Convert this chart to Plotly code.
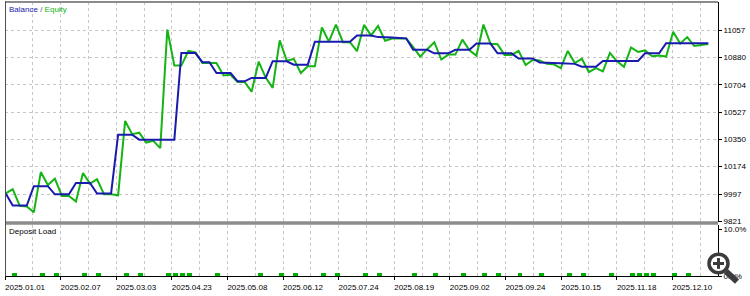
import plotly.graph_objects as go

# ---------------- data ----------------
balance = [
    10001, 9923, 9923, 9923, 10048, 10048, 10048, 9995, 9995, 9995,
    10069, 10069, 10069, 10001, 10001, 10001, 10381, 10381, 10381, 10349,
    10349, 10349, 10349, 10349, 10349, 10909, 10909, 10909, 10850, 10850,
    10780, 10780, 10780, 10726, 10726, 10748, 10748, 10748, 10856, 10856,
    10856, 10834, 10834, 10834, 10982, 10982, 10982, 10982, 10982, 10982,
    11023, 11023, 11023, 11012, 11012, 11010, 11007, 11004, 10930, 10930,
    10930, 10907, 10907, 10907, 10930, 10930, 10930, 10970, 10970, 10970,
    10907, 10907, 10907, 10874, 10874, 10874, 10848, 10848, 10845, 10843,
    10842, 10839, 10820, 10820, 10820, 10858, 10858, 10858, 10858, 10858,
    10858, 10907, 10907, 10907, 10972, 10972, 10972, 10972, 10972, 10972,
    10972,
]
equity = [
    10001, 10029, 9921, 9917, 9879, 10139, 10055, 10097, 9985, 9985,
    9949, 10133, 10065, 10093, 9995, 9995, 9989, 10470, 10384, 10394,
    10330, 10341, 10294, 11061, 10828, 10828, 10923, 10913, 10845, 10845,
    10845, 10764, 10769, 10722, 10722, 10659, 10853, 10750, 10684, 10991,
    10860, 10871, 10780, 10823, 10823, 11074, 10983, 11093, 10979, 10979,
    10921, 11091, 11023, 11085, 10989, 11003, 11003, 11003, 10947, 10886,
    10934, 10979, 10867, 10899, 10899, 10996, 10926, 10892, 11093, 10969,
    10966, 10897, 10897, 10923, 10832, 10864, 10861, 10839, 10836, 10812,
    10923, 10844, 10872, 10786, 10812, 10791, 10910, 10855, 10820, 10945,
    10916, 10926, 10888, 10893, 10886, 11047, 10970, 11012, 10955, 10961,
    10968,
]
deals = list(range(len(balance)))

load_deals = [1, 5, 7, 11, 13, 17, 19, 23, 24, 25, 26, 30, 36, 39, 41, 45, 47, 51,
              53, 58, 61, 65, 68, 70, 73, 76, 80, 82, 86, 89, 90, 91, 92, 95, 97]
load_pct = [0.75, 0.75, 0.75, 0.75, 0.75, 0.75, 0.75, 0.75, 0.75, 0.75, 0.75, 0.75,
            0.75, 0.75, 0.75, 0.75, 0.75, 0.75, 0.75, 0.75, 0.75, 0.75, 0.75, 0.75,
            0.75, 0.75, 0.75, 0.75, 0.75, 0.75, 0.75, 0.75, 0.75, 0.75, 0.75]

date_labels = ["2025.01.01", "2025.02.07", "2025.03.03", "2025.04.23", "2025.05.08",
               "2025.06.12", "2025.07.24", "2025.08.19", "2025.09.02", "2025.09.24",
               "2025.10.15", "2025.11.18", "2025.12.10"]
y_ticks = [9821, 9997, 10174, 10350, 10527, 10704, 10880, 11057]
y_tick_text = ["9821", "9997", "10174", "10350", "10527", "10704", "10880", "11057"]
load_ticks = [0, 10]
load_tick_text = ["0.0%", "10.0%"]

# ---------------- layout helpers ----------------
W, H = 750, 296
def xp(p):
    return p / W
def yp(p):
    return 1 - p / H

X0 = -0.1
GRID_STEP = 3.9567
label_pos = [X0 + 2 * GRID_STEP * k for k in range(len(date_labels))]

BLUE = "#1a1aae"
GREEN = "#14b414"
GRID = "#c6c6c6"
FONT = dict(family="Liberation Sans, Arial, sans-serif", size=8, color="#000000")

fig = go.Figure()
fig.add_trace(go.Scatter(x=deals, y=equity, mode="lines",
                         line=dict(color=GREEN, width=2), xaxis="x", yaxis="y"))
fig.add_trace(go.Scatter(x=deals, y=balance, mode="lines",
                         line=dict(color=BLUE, width=2), xaxis="x", yaxis="y"))
fig.add_trace(go.Bar(x=load_deals, y=load_pct, xaxis="x2", yaxis="y2",
                     width=0.7, offset=-0.15,
                     marker=dict(color="#00b000", line=dict(width=0))))

xrange = [X0, 101.38]
xdom = [xp(5), xp(718)]

fig.update_layout(
    width=W, height=H, autosize=False,
    margin=dict(l=0, r=0, t=0, b=0),
    paper_bgcolor="white", plot_bgcolor="white",
    showlegend=False, bargap=0,
    font=FONT,
    xaxis=dict(domain=xdom, range=xrange, anchor="y",
               tickmode="linear", tick0=X0, dtick=GRID_STEP,
               showticklabels=False, ticks="",
               showgrid=True, gridcolor=GRID, griddash="3px,3px", gridwidth=1,
               zeroline=False, showline=False),
    yaxis=dict(domain=[yp(226), yp(2)], range=[9815.1, 11239.3], anchor="x",
               side="right", tickmode="array", tickvals=y_ticks, ticktext=y_tick_text,
               ticks="outside", ticklen=3, tickcolor="#000000",
               showgrid=True, gridcolor=GRID, griddash="3px,3px", gridwidth=1,
               showline=True, linecolor="#000000", linewidth=1,
               zeroline=False, tickfont=FONT),
    xaxis2=dict(domain=xdom, range=xrange, anchor="y2",
                tickmode="array", tickvals=label_pos, ticktext=date_labels,
                ticks="outside", ticklen=3, tickcolor="#000000",
                ticklabelshift=20,
                showgrid=True, gridcolor=GRID, griddash="3px,3px", gridwidth=1,
                minor=dict(tickmode="linear", tick0=X0 + GRID_STEP, dtick=2 * GRID_STEP,
                           showgrid=True, gridcolor=GRID, griddash="3px,3px",
                           gridwidth=1, ticks=""),
                showline=True, linecolor="#000000", linewidth=1,
                zeroline=False, tickfont=FONT),
    yaxis2=dict(domain=[yp(281), yp(229)], range=[0, 10.83], anchor="x2",
                side="right", tickmode="array", tickvals=load_ticks,
                ticktext=load_tick_text,
                ticks="outside", ticklen=3, tickcolor="#000000",
                showgrid=False, showline=True, linecolor="#000000", linewidth=1,
                zeroline=False, tickfont=FONT),
)

shapes = [
    # top frame line
    dict(type="rect", xref="paper", yref="paper", x0=xp(5), x1=xp(718),
         y0=yp(3), y1=yp(1), fillcolor="#8c8c8c", line=dict(width=0), layer="above"),
    # separator between panels
    dict(type="rect", xref="paper", yref="paper", x0=xp(5), x1=xp(718),
         y0=yp(228.5), y1=yp(225), fillcolor="#8c8c8c", line=dict(width=0), layer="above"),
    # left frame line
    dict(type="line", xref="paper", yref="paper", x0=xp(5.5), x1=xp(5.5),
         y0=yp(1), y1=yp(281), line=dict(color="#505050", width=1), layer="above"),
    # magnifier icon
    dict(type="line", xref="paper", yref="paper", x0=xp(726), y0=yp(276),
         x1=xp(737), y1=yp(286.5), line=dict(color="#3c3c3c", width=6), layer="above"),
    dict(type="circle", xref="paper", yref="paper", x0=xp(709), x1=xp(728),
         y0=yp(277.5), y1=yp(258.5), fillcolor="white",
         line=dict(color="#3c3c3c", width=3.5), layer="above"),
    dict(type="line", xref="paper", yref="paper", x0=xp(713), x1=xp(724),
         y0=yp(268), y1=yp(268), line=dict(color="#3c3c3c", width=3), layer="above"),
    dict(type="line", xref="paper", yref="paper", x0=xp(718.5), x1=xp(718.5),
         y0=yp(262.5), y1=yp(273.5), line=dict(color="#3c3c3c", width=3), layer="above"),
]
fig.update_layout(shapes=shapes)

fig.add_annotation(xref="paper", yref="paper", x=xp(7), y=yp(10),
                   xanchor="left", yanchor="middle", showarrow=False,
                   text=f'<span style="color:{BLUE}">Balance</span>'
                        f'<span style="color:#555555"> / </span>'
                        f'<span style="color:{GREEN}">Equity</span>',
                   font=FONT)
fig.add_annotation(xref="paper", yref="paper", x=xp(7), y=yp(235),
                   xanchor="left", yanchor="middle", showarrow=False,
                   text="Deposit Load", font=FONT)

fig.write_html("out.html")
